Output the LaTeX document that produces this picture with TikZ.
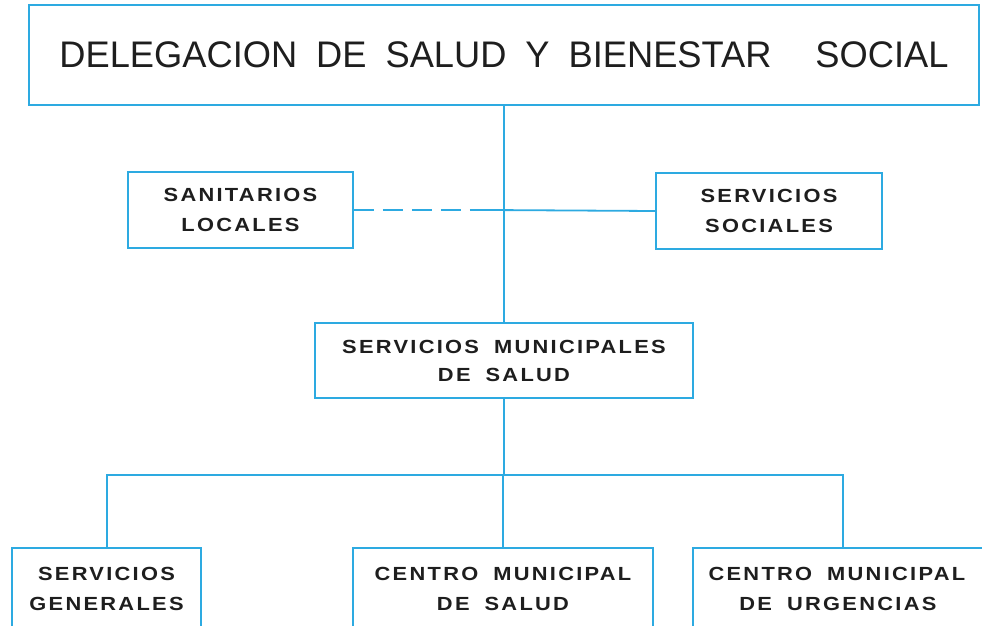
\documentclass[tikz,border=0pt]{standalone}
\usepackage{fontspec}
\setmainfont{Liberation Sans}
\newfontfamily\titlefont[FakeStretch=0.98]{Liberation Sans}
\newfontfamily\boxfont[LetterSpace=12,FakeStretch=1.15]{Liberation Sans}
\definecolor{linecol}{RGB}{45,170,225}
\definecolor{txtcol}{RGB}{30,30,30}
\newcommand{\wgap}{\hspace*{15pt}}
\newcommand{\tgap}{\hspace*{19pt}}
\tikzset{
  conn/.style={draw=linecol, line width=1.8pt},
  boxnode/.style={draw=linecol, line width=1.8pt, fill=white, text=txtcol,
    inner sep=0pt, align=center, font=\boxfont\bfseries\fontsize{19}{30}\selectfont},
  titlenode/.style={draw=linecol, line width=1.8pt, fill=white, text=txtcol,
    inner sep=0pt, align=center, font=\titlefont\fontsize{37}{40}\selectfont},
  dashline/.style={conn, dash pattern=on 20pt off 9pt}
}
\begin{document}
\begin{tikzpicture}[x=1pt,y=-1pt]
\path[use as bounding box] (0,0) rectangle (982,625);
\clip (0,0) rectangle (982,625);
\fill[white] (0,0) rectangle (982,625);
% coordinates for connector junctions
\coordinate (dashend) at (490,211);
\coordinate (hL) at (107,475);
\coordinate (hR) at (843,475);
% nodes
\node[titlenode, minimum width=950pt, minimum height=100pt] (top) at (504,55)
  {DELEGACION\tgap DE\tgap SALUD\tgap Y\tgap BIENESTAR\hspace*{44pt}SOCIAL};
\node[boxnode, minimum width=225pt, minimum height=76pt] (sanit) at (240.5,210)
  {SANITARIOS\\LOCALES};
\node[boxnode, minimum width=226pt, minimum height=76pt] (socs) at (769,211)
  {SERVICIOS\\SOCIALES};
\node[boxnode, minimum width=378pt, minimum height=75pt, font=\boxfont\bfseries\fontsize{19}{28}\selectfont] (mid) at (504,360.5)
  {SERVICIOS\wgap MUNICIPALES\\DE\wgap SALUD};
\node[boxnode, minimum width=189pt, minimum height=82pt] (bl) at (106.5,589)
  {SERVICIOS\\GENERALES};
\node[boxnode, minimum width=300pt, minimum height=82pt] (bm) at (503,589)
  {CENTRO\wgap MUNICIPAL\\DE\wgap SALUD};
\node[boxnode, minimum width=302pt, minimum height=82pt, anchor=west] (br) at (692,589)
  {\hspace*{-8pt}CENTRO\wgap MUNICIPAL\hspace*{6pt}\\DE\wgap URGENCIAS\hspace*{12pt}};
% connectors
\draw[conn] (top.south) -- (mid.north);
\draw[dashline] (sanit.east) -- (sanit.east -| dashend);
\draw[conn] (sanit.east -| dashend) -- (socs.west);
\draw[conn] (mid.south) -- (mid.south |- hL);
\draw[conn] (bl.north -| hL) -- (hL) -- (hR) -- (br.north -| hR);
\draw[conn] (bm.north) -- (bm.north |- hL);
\end{tikzpicture}
\end{document}
